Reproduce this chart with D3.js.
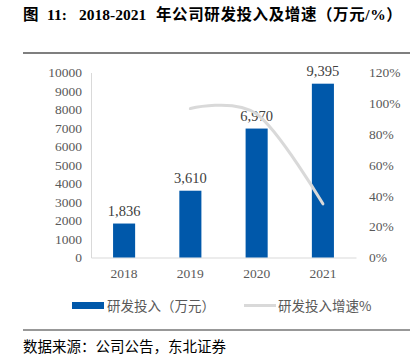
<!DOCTYPE html>
<html><head><meta charset="utf-8">
<script src="https://cdn.jsdelivr.net/npm/d3@7"></script>
<style>body{margin:0;background:#fff}</style>
</head><body>
<script>
const categories = ["2018","2019","2020","2021"];
const rdSpend = [1836, 3610, 6970, 9395];
const growthYears = ["2019","2020","2021"];
const growthPct = [96.6, 93.1, 34.8];
const leftTicks = [0,1000,2000,3000,4000,5000,6000,7000,8000,9000,10000];
const rightTicks = [0,20,40,60,80,100,120];

const W=414,H=355;
const svg=d3.select("body").append("svg").attr("width",W).attr("height",H);
const serif="'Liberation Serif','Times New Roman',serif";
const cjk="'Noto Sans CJK SC',sans-serif";

// title
const t=svg.append("text").attr("y",20).attr("font-family",serif+","+cjk)
  .attr("font-weight","bold").attr("font-size",15.5).attr("fill","#000");
t.append("tspan").attr("x",23).text("图");
t.append("tspan").attr("x",47).text("11:");
t.append("tspan").attr("x",79).text("2018-2021");
t.append("tspan").attr("x",156).attr("letter-spacing",0.6).text("年公司研发投入及增速（万元/%）");
svg.append("line").attr("x1",23).attr("x2",410).attr("y1",53).attr("y2",53).attr("stroke","#555").attr("stroke-width",1.3);

const x=d3.scaleBand().domain(categories).range([91,356]).paddingInner(0.667).paddingOuter(0.333);
const y=d3.scaleLinear().domain([0,10000]).range([257.5,72.5]);
const y2=d3.scaleLinear().domain([0,120]).range([257.5,72.5]);

// left axis
const la=svg.append("g").attr("transform","translate(91,0)")
  .call(d3.axisLeft(y).tickValues(leftTicks).tickSize(0).tickPadding(9).tickFormat(d3.format("d")));
la.select(".domain").attr("stroke","#d9d9d9");
la.selectAll("text").attr("font-family",serif).attr("font-size",13.5).attr("fill","#595959");

// right axis
const ra=svg.append("g").attr("transform","translate(356,0)")
  .call(d3.axisRight(y2).tickValues(rightTicks).tickSize(0).tickPadding(13).tickFormat(d=>d+"%"));
ra.select(".domain").remove();
ra.selectAll("text").attr("font-family",serif).attr("font-size",13.5).attr("fill","#595959");

// bottom axis
const ba=svg.append("g").attr("transform","translate(0,257.5)")
  .call(d3.axisBottom(x).tickSize(0).tickPadding(11));
ba.select(".domain").attr("stroke","#d9d9d9");
ba.selectAll("text").attr("font-family",serif).attr("font-size",13.5).attr("fill","#595959");

// bars
svg.selectAll("rect.bar").data(rdSpend).join("rect").attr("class","bar")
  .attr("x",(d,i)=>x(categories[i])).attr("width",x.bandwidth())
  .attr("y",d=>y(d)).attr("height",d=>y(0)-y(d)).attr("fill","#0058AA");
svg.selectAll("text.lbl").data(rdSpend).join("text").attr("class","lbl")
  .attr("x",(d,i)=>x(categories[i])+x.bandwidth()/2).attr("y",d=>y(d)-8)
  .attr("text-anchor","middle").attr("font-family",serif).attr("font-size",14.5).attr("fill","#404040")
  .text(d=>d3.format(",")(d));

// growth line
const line=d3.line().x((d,i)=>x(growthYears[i])+x.bandwidth()/2).y(d=>y2(d)).curve(d3.curveCardinal.tension(0));
svg.append("path").datum(growthPct).attr("d",line).attr("fill","none").attr("stroke","#d9d9d9").attr("stroke-width",3).attr("stroke-linecap","round");

// legend
svg.append("rect").attr("x",72).attr("y",302).attr("width",32).attr("height",7).attr("fill","#0058AA");
svg.append("text").attr("x",107).attr("y",311).attr("font-family",cjk).attr("font-size",13.5).attr("fill","#595959").text("研发投入（万元）");
svg.append("line").attr("x1",244).attr("x2",276).attr("y1",305.5).attr("y2",305.5).attr("stroke","#d9d9d9").attr("stroke-width",3);
svg.append("text").attr("x",278).attr("y",311).attr("font-family",cjk).attr("font-size",13.5).attr("fill","#595959").text("研发投入增速%");

// footer
svg.append("line").attr("x1",23).attr("x2",410).attr("y1",330).attr("y2",330).attr("stroke","#333").attr("stroke-width",1.2);
svg.append("text").attr("x",23).attr("y",352).attr("font-family",cjk).attr("font-size",14.5).attr("fill","#000").text("数据来源：公司公告，东北证券");
</script>
</body></html>
